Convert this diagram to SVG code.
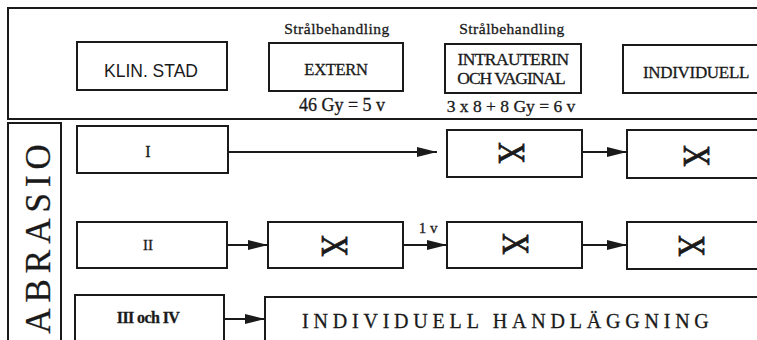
<svg xmlns="http://www.w3.org/2000/svg" width="757" height="340" viewBox="0 0 757 340">
<style>
.b{fill:none;stroke:#1a1a1a;stroke-width:2}
.c{fill:none;stroke:#1a1a1a;stroke-width:2}
.s{font-family:"Liberation Serif",serif;fill:#1a1a1a;stroke:#1a1a1a;stroke-width:0.3}
.a{font-family:"Liberation Sans",Arial,sans-serif;fill:#1a1a1a}
.m{text-anchor:middle}
.x{font-family:"Liberation Serif",serif;fill:#1a1a1a;stroke:#1a1a1a;stroke-width:0.8;font-size:37px;text-anchor:middle;dominant-baseline:central}
</style>
<defs>
<marker id="ah" viewBox="0 0 20 10" refX="20" refY="5" markerWidth="20" markerHeight="10" markerUnits="userSpaceOnUse" orient="auto">
<path d="M0,0 L20,5 L0,10 Z" fill="#1a1a1a"/>
</marker>
</defs>
<rect width="757" height="340" fill="#fff"/>
<g id="header">
<rect class="b" x="8" y="8" width="760" height="111"/>
</g>
<g id="klin-stad">
<rect class="b" x="77" y="42" width="150" height="48"/>
<text class="a m" x="151" y="77" font-size="17.5">KLIN. STAD</text>
</g>
<g id="extern">
<text class="s m" x="337" y="34" font-size="15.5" letter-spacing="0.5">Strålbehandling</text>
<rect class="b" x="269" y="43" width="134" height="48"/>
<text class="s m" x="336" y="75" font-size="16.5" letter-spacing="-0.3">EXTERN</text>
<text class="s m" x="342" y="111" font-size="18">46 Gy = 5 v</text>
</g>
<g id="intrauterin">
<text class="s m" x="512" y="34" font-size="15.5" letter-spacing="0.5">Strålbehandling</text>
<rect class="b" x="445" y="44" width="136" height="49"/>
<text class="s m" x="513" y="65" font-size="17.5" letter-spacing="-0.6">INTRAUTERIN</text>
<text class="s m" x="511" y="84" font-size="17.5" letter-spacing="-1">OCH VAGINAL</text>
<text class="s m" x="511" y="112" font-size="17.5">3 x 8 + 8 Gy = 6 v</text>
</g>
<g id="individuell">
<rect class="b" x="623" y="45" width="150" height="48"/>
<text class="s m" x="696" y="78" font-size="17" letter-spacing="-0.3">INDIVIDUELL</text>
</g>
<g id="abrasio">
<rect class="b" x="8" y="123" width="53" height="230"/>
<text class="s m" transform="translate(50,236) rotate(-90)" font-size="35" letter-spacing="6">ABRASIO</text>
</g>
<g id="stad-I">
<rect class="b" x="77" y="126" width="151" height="47"/>
<text class="s m" x="148" y="157" font-size="16">I</text>
</g>
<g id="I-intra">
<rect class="b" x="447" y="130" width="135" height="47"/>
<text class="x" transform="translate(512,153) rotate(90) scale(0.8,1.05)">X</text>
</g>
<g id="I-indiv">
<rect class="b" x="627" y="130" width="150" height="48"/>
<text class="x" transform="translate(697,156) rotate(90) scale(0.8,1.05)">X</text>
</g>
<g id="stad-II">
<rect class="b" x="77" y="222" width="150" height="46"/>
<text class="s m" x="148" y="250" font-size="15">II</text>
</g>
<g id="II-extern">
<rect class="b" x="268" y="222" width="135" height="46"/>
<text class="x" transform="translate(335,246) rotate(90) scale(0.8,1.05)">X</text>
</g>
<g id="II-intra">
<rect class="b" x="447" y="222" width="135" height="46"/>
<text class="x" transform="translate(516,244) rotate(90) scale(0.8,1.05)">X</text>
</g>
<g id="II-indiv">
<rect class="b" x="627" y="222" width="150" height="47"/>
<text class="x" transform="translate(692,246) rotate(90) scale(0.8,1.05)">X</text>
</g>
<g id="stad-III-IV">
<rect class="b" x="75" y="295" width="149" height="60"/>
<text class="s m" x="148" y="323" font-size="16" letter-spacing="-0.6" font-weight="bold">III och IV</text>
</g>
<g id="individuell-handlaggning">
<rect class="b" x="265" y="297" width="510" height="60"/>
<text class="s" x="302" y="328" font-size="20" letter-spacing="4.8">INDIVIDUELL HANDLÄGGNING</text>
</g>
<g id="connectors">
<line class="c" x1="228" y1="152" x2="437" y2="152" marker-end="url(#ah)"/>
<line class="c" x1="582" y1="152" x2="627" y2="152" marker-end="url(#ah)"/>
<line class="c" x1="227" y1="245" x2="268" y2="245" marker-end="url(#ah)"/>
<line class="c" x1="403" y1="245" x2="447" y2="245" marker-end="url(#ah)"/>
<text class="s m" x="428" y="233" font-size="15">1 v</text>
<line class="c" x1="582" y1="245" x2="627" y2="245" marker-end="url(#ah)"/>
<line class="c" x1="224" y1="319" x2="265" y2="319" marker-end="url(#ah)"/>
</g>
</svg>
